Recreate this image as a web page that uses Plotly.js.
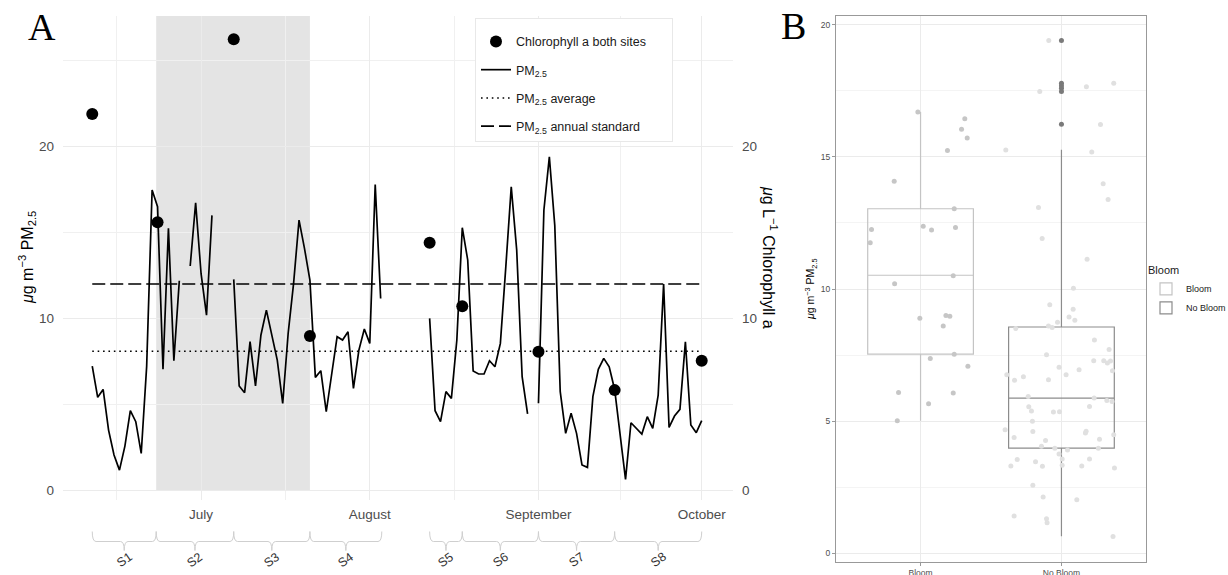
<!DOCTYPE html>
<html><head><meta charset="utf-8">
<script src="https://cdn.plot.ly/plotly-3.0.1.min.js"></script>
<style>html,body{margin:0;padding:0;background:#fff}#chart{width:1228px;height:575px}</style>
</head><body><div id="chart"></div>
<script>
// ---------- Panel A data ----------
const pmDates = [
 '2019-06-11','2019-06-12','2019-06-13','2019-06-14','2019-06-15','2019-06-16','2019-06-17','2019-06-18','2019-06-19','2019-06-20',
 '2019-06-21','2019-06-22','2019-06-23','2019-06-24','2019-06-25','2019-06-26','2019-06-27','2019-06-28','2019-06-29','2019-06-30',
 '2019-07-01','2019-07-02','2019-07-03','2019-07-04','2019-07-05','2019-07-06','2019-07-07','2019-07-08','2019-07-09','2019-07-10',
 '2019-07-11','2019-07-12','2019-07-13','2019-07-14','2019-07-15','2019-07-16','2019-07-17','2019-07-18','2019-07-19','2019-07-20',
 '2019-07-21','2019-07-22','2019-07-23','2019-07-24','2019-07-25','2019-07-26','2019-07-27','2019-07-28','2019-07-29','2019-07-30',
 '2019-07-31','2019-08-01','2019-08-02','2019-08-03','2019-08-04','2019-08-05','2019-08-06','2019-08-07','2019-08-08','2019-08-09',
 '2019-08-10','2019-08-11','2019-08-12','2019-08-13','2019-08-14','2019-08-15','2019-08-16','2019-08-17','2019-08-18','2019-08-19',
 '2019-08-20','2019-08-21','2019-08-22','2019-08-23','2019-08-24','2019-08-25','2019-08-26','2019-08-27','2019-08-28','2019-08-29',
 '2019-08-30','2019-08-31','2019-09-01','2019-09-02','2019-09-03','2019-09-04','2019-09-05','2019-09-06','2019-09-07','2019-09-08',
 '2019-09-09','2019-09-10','2019-09-11','2019-09-12','2019-09-13','2019-09-14','2019-09-15','2019-09-16','2019-09-17','2019-09-18',
 '2019-09-19','2019-09-20','2019-09-21','2019-09-22','2019-09-23','2019-09-24','2019-09-25','2019-09-26','2019-09-27','2019-09-28',
 '2019-09-29','2019-09-30','2019-10-01'];
const pmValues = [
 7.22,5.40,5.86,3.49,2.04,1.16,2.56,4.62,3.98,2.13,
 7.2,17.47,16.5,7.03,15.24,7.53,12.19,null,13.05,16.73,
 12.6,10.19,16.0,null,null,null,12.27,6.06,5.67,8.64,
 6.06,9.03,10.48,9.1,7.57,5.05,9.12,12.04,15.72,14.08,
 12.23,6.56,6.95,4.56,6.7,8.93,8.74,9.22,5.92,8.15,
 9.38,8.54,17.8,11.16,null,null,null,null,null,null,
 null,null,10.0,4.62,3.98,5.73,5.34,8.74,15.28,13.4,
 6.93,6.76,6.76,7.53,7.18,8.54,13.0,17.66,13.98,6.6,
 4.43,null,5.05,16.31,19.41,15.4,5.73,3.3,4.47,3.3,
 1.46,1.32,5.44,7.03,7.67,7.18,5.86,3.3,0.62,3.92,
 3.59,3.26,4.27,3.59,5.53,12.0,3.65,4.31,4.7,8.64,
 3.79,3.34,4.04];
const chlDates = ['2019-06-11','2019-06-23','2019-07-07','2019-07-21','2019-08-12','2019-08-18','2019-09-01','2019-09-15','2019-10-01'];
const chlValues = [21.9,15.6,26.25,8.97,14.4,10.7,8.06,5.82,7.53];
const pmAverage = 8.08;
const pmStandard = 12;
const refLineSpan = ['2019-06-11','2019-10-01'];
const bloomPeriod = ['2019-06-22 18:00','2019-07-21 00:00'];
const sessionLabels = ['S1','S2','S3','S4','S5','S6','S7','S8'];
const sessionStart = ['2019-06-11 00:00','2019-06-22 18:00','2019-07-07 00:00','2019-07-21 00:00','2019-08-12 00:00','2019-08-18 00:00','2019-09-01 00:00','2019-09-15 00:00'];
const sessionEnd   = ['2019-06-22 18:00','2019-07-07 00:00','2019-07-21 00:00','2019-08-03 05:00','2019-08-18 00:00','2019-09-01 00:00','2019-09-15 00:00','2019-10-01 00:00'];
const monthTicks = ['2019-07-01','2019-08-01','2019-09-01','2019-10-01'];
const monthLabels = ['July','August','September','October'];
const monthMinor = ['2019-06-15 12:00','2019-07-16 12:00','2019-08-16 12:00','2019-09-16 00:00'];

// ---------- Panel B data ----------
const groupLabels = ['Bloom','No Bloom'];
const bloomStats   = {q1:7.53, median:10.52, q3:13.04, lower:5.01, upper:16.7};
const noBloomStats = {q1:3.97, median:5.87, q3:8.56, lower:0.64, upper:15.27};
const noBloomOutliers = [19.41,17.79,17.7,17.6,17.48,16.24];
const bloomJitterX = [0.981,1.314,1.291,1.331,1.191,0.813,1.239,0.652,1.019,1.078,1.248,0.643,1.232,0.816,0.995,1.18,1.208,1.161,1.069,1.239,1.336,0.844,1.232,1.057,0.835];
const bloomJitterY = [16.7,16.45,16.05,15.72,15.25,14.08,13.04,12.25,12.38,12.23,12.33,11.75,10.5,10.2,8.89,9.0,8.97,8.6,7.37,7.53,7.07,6.08,6.06,5.65,5.01];
const noBloomJitterX = [1.91,1.846,2.177,2.371,2.277,1.605,2.215,2.296,2.331,1.837,1.863,2.182,2.085,1.917,2.083,2.054,2.095,1.972,1.908,1.934,1.676,2.234,2.338,1.894,2.229,2.3,2.326,2.348,1.983,2.125,2.362,1.612,2.033,1.73,1.667,1.908,1.764,2.232,2.322,2.359,1.768,2.199,1.787,1.943,1.986,1.794,1.6,1.797,2.175,2.17,2.371,1.664,2.27,1.887,1.858,1.953,2.043,2.262,1.983,2.005,1.686,2.199,1.816,1.641,1.865,2.005,2.144,2.376,1.797,1.87,2.109,1.664,1.894,1.898,2.366];
const noBloomJitterY = [19.41,17.48,17.66,17.79,16.23,15.26,15.19,13.99,13.39,13.09,11.91,11.13,10.03,9.4,9.23,8.94,8.82,8.74,8.6,8.54,8.5,8.07,7.71,7.51,7.28,7.28,7.2,7.27,7.04,6.94,6.9,6.75,6.75,6.68,6.54,6.56,5.93,5.87,5.78,5.74,5.54,5.55,5.38,5.34,5.35,4.99,4.67,4.6,4.61,4.55,4.48,4.38,4.31,4.26,4.04,3.97,3.9,3.97,3.75,3.56,3.54,3.56,3.46,3.3,3.29,3.32,3.3,3.22,2.57,2.12,2.02,1.4,1.3,1.15,0.63];

// ---------- helpers ----------
const W = 1228, H = 575;
const FONT = 'Liberation Sans, Arial, Helvetica, sans-serif';
const px2x = p => p / W;
const px2y = p => 1 - p / H;
function toMs(s){ const parts = s.split(' '); return Date.parse(parts[0] + 'T' + (parts[1] || '00:00') + ':00Z'); }
function msToPath(ms){ return new Date(ms).toISOString().replace('T','_').replace('.000Z',''); }
const DAY = 86400000;

// braces
const yTop = px2y(531.5), yMid = px2y(541.5), yTip = px2y(550.5);
const braceShapes = sessionLabels.map((lab, i) => {
  const x0 = toMs(sessionStart[i]), x1 = toMs(sessionEnd[i]);
  const xm = (x0 + x1) / 2, c = 0.7 * DAY;
  const P = msToPath;
  const path = `M ${P(x0)},${yTop} Q ${P(x0)},${yMid} ${P(x0+c)},${yMid} L ${P(xm-c)},${yMid} Q ${P(xm)},${yMid} ${P(xm)},${yTip} Q ${P(xm)},${yMid} ${P(xm+c)},${yMid} L ${P(x1-c)},${yMid} Q ${P(x1)},${yMid} ${P(x1)},${yTop}`;
  return {type:'path', xref:'x', yref:'paper', path, line:{color:'#cfcfcf', width:1}, layer:'above'};
});
const braceLabels = sessionLabels.map((lab, i) => ({
  text: lab, xref:'x', yref:'paper',
  x: msToPath((toMs(sessionStart[i]) + toMs(sessionEnd[i])) / 2).replace('_',' '),
  y: px2y(560), xanchor:'center', yanchor:'middle', showarrow:false, textangle:-35,
  font:{family:FONT, size:12.5, color:'#333'}
}));

// ---------- traces ----------
const traces = [
  {type:'scatter', mode:'markers', x:chlDates, y:chlValues, yaxis:'y2', xaxis:'x',
   name:'Chlorophyll a both sites', legendgroup:'g1',
   marker:{color:'#000', size:12}},
  {type:'scatter', mode:'lines', x:pmDates, y:pmValues, xaxis:'x', yaxis:'y',
   name:'PM<sub>2.5</sub>', legendgroup:'g2', connectgaps:false,
   line:{color:'#000', width:1.7}},
  {type:'scatter', mode:'lines', x:refLineSpan, y:refLineSpan.map(() => pmAverage), xaxis:'x', yaxis:'y',
   name:'PM<sub>2.5</sub> average', legendgroup:'g3',
   line:{color:'#000', width:1.6, dash:'1.6px,3.8px'}},
  {type:'scatter', mode:'lines', x:refLineSpan, y:refLineSpan.map(() => pmStandard), xaxis:'x', yaxis:'y',
   name:'PM<sub>2.5</sub> annual standard', legendgroup:'g4',
   line:{color:'#000', width:1.7, dash:'13px,5px'}},

  {type:'box', x:[1], q1:[bloomStats.q1], median:[bloomStats.median], q3:[bloomStats.q3],
   lowerfence:[bloomStats.lower], upperfence:[bloomStats.upper],
   xaxis:'x2', yaxis:'y3', name:groupLabels[0], legend:'legend2', boxpoints:false,
   width:0.75, whiskerwidth:0, line:{color:'#c4c4c4', width:1.2}, fillcolor:'rgba(255,255,255,0)'},
  {type:'box', x:[2], q1:[noBloomStats.q1], median:[noBloomStats.median], q3:[noBloomStats.q3],
   lowerfence:[noBloomStats.lower], upperfence:[noBloomStats.upper],
   xaxis:'x2', yaxis:'y3', name:groupLabels[1], legend:'legend2', boxpoints:false,
   width:0.75, whiskerwidth:0, line:{color:'#8c8c8c', width:1.2}, fillcolor:'rgba(255,255,255,0)'},
  {type:'scatter', mode:'markers', x:noBloomOutliers.map(() => 2), y:noBloomOutliers, xaxis:'x2', yaxis:'y3',
   showlegend:false, marker:{color:'#7a7a7a', size:5}},
  {type:'scatter', mode:'markers', x:bloomJitterX, y:bloomJitterY, xaxis:'x2', yaxis:'y3',
   showlegend:false, marker:{color:'#c6c6c6', size:5}},
  {type:'scatter', mode:'markers', x:noBloomJitterX, y:noBloomJitterY, xaxis:'x2', yaxis:'y3',
   showlegend:false, marker:{color:'#e0e0e0', size:5}}
];

const tickFontA = {family:FONT, size:13.5, color:'#4d4d4d'};
const tickFontB = {family:FONT, size:8.5, color:'#4d4d4d'};

const layout = {
  width:W, height:H, margin:{l:0, r:0, t:0, b:0, autoexpand:false},
  paper_bgcolor:'#fff', plot_bgcolor:'#fff',
  font:{family:FONT, color:'#1a1a1a'},
  xaxis:{type:'date', domain:[px2x(63), px2x(733)], anchor:'y',
    range:['2019-06-05 15:00','2019-10-06 18:00'],
    tickmode:'array', tickvals:monthTicks, ticktext:monthLabels, tickfont:tickFontA,
    ticks:'', ticklabelstandoff:4, showline:false, zeroline:false,
    showgrid:true, gridcolor:'#ebebeb', gridwidth:1.1,
    minor:{tickmode:'array', tickvals:monthMinor, showgrid:true, gridcolor:'#f0f0f0', gridwidth:0.7, ticks:''}},
  yaxis:{domain:[px2y(500), px2y(16)], anchor:'x', range:[-0.58, 27.61],
    tickmode:'linear', tick0:0, dtick:10, tickfont:tickFontA, ticks:'', ticklabelstandoff:8,
    showgrid:true, gridcolor:'#ebebeb', gridwidth:1.1, zeroline:false, showline:false,
    minor:{tick0:0, dtick:5, showgrid:true, gridcolor:'#f0f0f0', gridwidth:0.7, ticks:''}},
  yaxis2:{overlaying:'y', side:'right', anchor:'x', range:[-0.58, 27.61],
    tickmode:'linear', tick0:0, dtick:10, tickfont:tickFontA, ticks:'', ticklabelstandoff:8,
    showgrid:false, zeroline:false, showline:false},

  xaxis2:{domain:[px2x(836), px2x(1146)], anchor:'y3', range:[0.4, 2.6],
    tickmode:'array', tickvals:[1,2], ticktext:groupLabels, tickfont:tickFontB,
    ticks:'outside', ticklen:3, tickcolor:'#999', tickwidth:1, ticklabelstandoff:0,
    showline:true, mirror:true, linecolor:'#999', linewidth:1,
    showgrid:true, gridcolor:'#ebebeb', gridwidth:1, zeroline:false},
  yaxis3:{domain:[px2y(562), px2y(16)], anchor:'x2', range:[-0.34, 20.34],
    tickmode:'linear', tick0:0, dtick:5, tickfont:tickFontB,
    ticks:'outside', ticklen:3, tickcolor:'#999', tickwidth:1,
    showline:true, mirror:true, linecolor:'#999', linewidth:1,
    showgrid:true, gridcolor:'#ebebeb', gridwidth:1, zeroline:false,
    minor:{tick0:0, dtick:2.5, showgrid:true, gridcolor:'#f4f4f4', gridwidth:0.6, ticks:''}},

  legend:{x:px2x(475), y:px2y(18), xanchor:'left', yanchor:'top',
    bgcolor:'#fff', bordercolor:'#e8e8e8', borderwidth:1,
    title:{text:'\u2003'.repeat(32), font:{family:FONT, size:6}},
    font:{family:FONT, size:12.5, color:'#1a1a1a'}, tracegroupgap:9, itemwidth:30},
  legend2:{x:px2x(1146), y:px2y(260), xanchor:'left', yanchor:'top',
    bgcolor:'rgba(255,255,255,0)', borderwidth:0,
    title:{text:'Bloom', font:{family:FONT, size:11, color:'#1a1a1a'}},
    font:{family:FONT, size:9, color:'#1a1a1a'}, tracegroupgap:0, itemwidth:30},

  shapes:[
    {type:'rect', xref:'x', yref:'y', x0:bloomPeriod[0], x1:bloomPeriod[1], y0:0, y1:27.61,
     fillcolor:'#e4e4e4', line:{width:0}, layer:'below'},
    ...braceShapes
  ],
  annotations:[
    {text:'A', xref:'paper', yref:'paper', x:px2x(26), y:px2y(27), xanchor:'left', yanchor:'middle',
     showarrow:false, font:{family:'Liberation Serif, Times New Roman, serif', size:38, color:'#000'}},
    {text:'B', xref:'paper', yref:'paper', x:px2x(779), y:px2y(26), xanchor:'left', yanchor:'middle',
     showarrow:false, font:{family:'Liberation Serif, Times New Roman, serif', size:38, color:'#000'}},
    {text:'<i>μ</i>g m<sup>−3</sup> PM<sub>2.5</sub>', xref:'paper', yref:'paper', x:px2x(27), y:px2y(258),
     xanchor:'center', yanchor:'middle', textangle:-90, showarrow:false, font:{family:FONT, size:16, color:'#000'}},
    {text:'<i>μ</i>g L<sup>−1</sup> Chlorophyll a', xref:'paper', yref:'paper', x:px2x(770), y:px2y(258),
     xanchor:'center', yanchor:'middle', textangle:90, showarrow:false, font:{family:FONT, size:16, color:'#000'}},
    {text:'<i>μ</i>g m<sup>−3</sup> PM<sub>2.5</sub>', xref:'paper', yref:'paper', x:px2x(811), y:px2y(289),
     xanchor:'center', yanchor:'middle', textangle:-90, showarrow:false, font:{family:FONT, size:10.5, color:'#000'}},
    ...braceLabels
  ]
};

Plotly.newPlot('chart', traces, layout, {displayModeBar:false, responsive:false});
</script>
</body></html>
